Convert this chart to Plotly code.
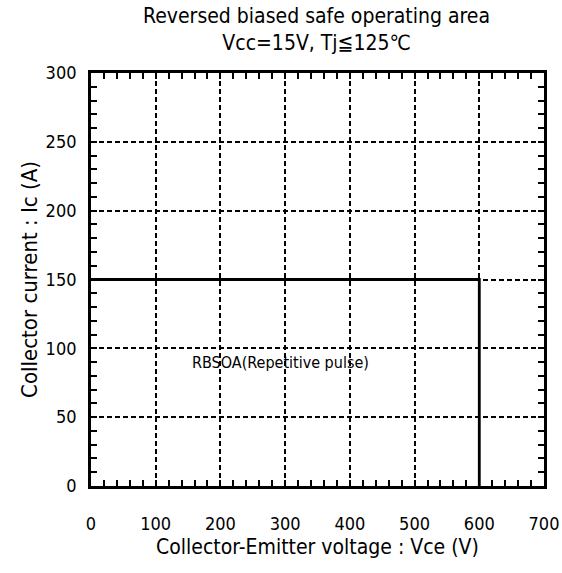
"""Reverse biased safe operating area chart."""

import plotly.graph_objects as go

# ── Data ──────────────────────────────────────────────────────────────────────
vce_rbsoa = [0, 600, 600]  # V
ic_rbsoa = [150, 150, 0]  # A

x_ticks = [0, 100, 200, 300, 400, 500, 600, 700]
y_ticks = [0, 50, 100, 150, 200, 250, 300]

title_lines = ["Reversed biased safe operating area", "Vcc=15V, Tj≦125℃"]
label_text = "RBSOA(Repetitive pulse)"
label_pos = (293, 90)

FONT = "DejaVu Sans Condensed, DejaVu Sans, sans-serif"
BLACK = "#000000"

fig = go.Figure()
fig.add_trace(
    go.Scatter(
        x=vce_rbsoa,
        y=ic_rbsoa,
        mode="lines",
        line={"color": BLACK, "width": 2.8},
        showlegend=False,
        hoverinfo="skip",
    )
)

axis_common = {
    "showgrid": True,
    "gridcolor": BLACK,
    "gridwidth": 1.6,
    "griddash": "5px,3px",
    "showline": True,
    "linecolor": BLACK,
    "linewidth": 2.8,
    "mirror": "allticks",
    "ticks": "inside",
    "ticklen": 6,
    "tickwidth": 2,
    "tickcolor": BLACK,
    "zeroline": False,
    "tickfont": {"family": FONT, "size": 18, "color": BLACK},
}
minor_common = {"ticks": "inside", "ticklen": 6, "tickwidth": 2, "tickcolor": BLACK}

fig.update_xaxes(
    **axis_common,
    range=[0, 700],
    tickvals=x_ticks,
    ticklabelstandoff=19,
    minor={**minor_common, "dtick": 20},
    title={
        "text": "Collector-Emitter voltage : Vce (V)",
        "font": {"family": FONT, "size": 21, "color": BLACK},
        "standoff": 7,
    },
)

fig.update_yaxes(
    **axis_common,
    range=[0, 300],
    tickvals=y_ticks,
    ticklabelstandoff=8,
    minor={**minor_common, "dtick": 10},
    title={
        "text": "Collector current : Ic (A)",
        "font": {"family": FONT, "size": 22, "color": BLACK},
        "standoff": 2,
    },
)

fig.add_annotation(
    x=label_pos[0],
    y=label_pos[1],
    text=label_text,
    showarrow=False,
    font={"family": FONT, "size": 16, "color": BLACK},
)

# two-line title above the plot area
fig.add_annotation(
    x=0.497,
    y=1.1053,
    xref="paper",
    yref="paper",
    text="<br>".join(title_lines),
    showarrow=False,
    xanchor="center",
    yanchor="middle",
    align="center",
    font={"family": FONT, "size": 21, "color": BLACK},
)

fig.update_layout(
    width=562,
    height=573,
    paper_bgcolor="#ffffff",
    plot_bgcolor="#ffffff",
    margin={"l": 91, "r": 18, "t": 73, "b": 87, "autoexpand": False},
)

fig.write_html(
    "out.html",
    config={"displayModeBar": False},
    post_script="document.body.style.margin='0';",
)
